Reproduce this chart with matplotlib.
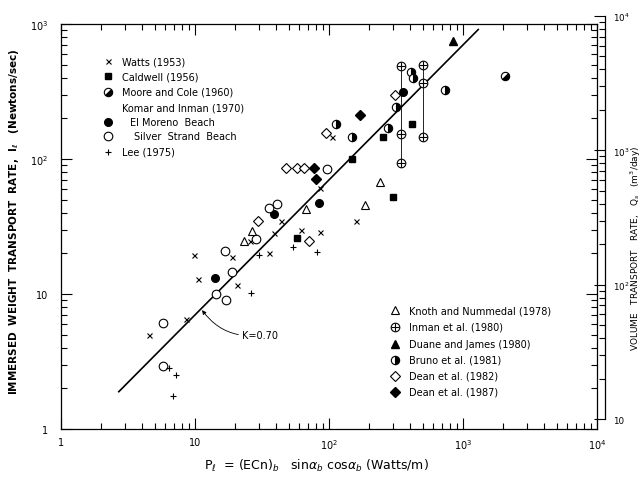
import numpy as np
import matplotlib
matplotlib.use('Agg')
import matplotlib.pyplot as plt
from matplotlib.markers import MarkerStyle
from matplotlib.transforms import Affine2D
from matplotlib.ticker import LogLocator, NullFormatter, FuncFormatter

# ---------------- data (P_l in W/m, I_l in N/s) ----------------
watts_P = [9.87, 10.6, 4.5, 8.6, 18.9, 20.6, 25.9, 38.7, 35.5, 44.2, 61.9, 86.4, 86.4, 105.6, 158]
watts_I = [19.4, 12.9, 5.0, 6.5, 18.7, 11.7, 24.8, 28.3, 20.0, 34.6, 29.9, 28.6, 61.5, 145, 34.7]

caldwell_P = [416, 254, 149, 302, 57.8]
caldwell_I = [181, 145, 100, 52, 26]

moore_P = [2052]
moore_I = [410]

elmoreno_P = [356, 84.9, 38.7, 14.2]
elmoreno_I = [312, 47.5, 39.1, 13.1]

silver_P = [95.8, 41.0, 35.5, 5.82, 5.76, 16.8, 18.9, 14.3, 17.1, 28.7]
silver_I = [83.9, 46.2, 43.3, 6.10, 2.91, 20.9, 14.6, 10.05, 9.03, 25.5]

lee_P = [7.24, 6.91, 6.35, 26.2, 29.9, 53.6, 80.7]
lee_I = [2.53, 1.75, 2.81, 10.2, 19.4, 22.2, 20.4]

knoth_P = [241, 187, 67.1, 26.7, 23.1]
knoth_I = [67.9, 45.9, 42.6, 29.4, 24.8]

inman_P = [342.5, 342.5, 342.5, 503, 503, 503]
inman_I = [486, 153, 93.4, 494, 367, 145]

duane_P = [848]
duane_I = [745]

bruno_P = [407, 426, 734, 314, 277, 147.5, 113]
bruno_I = [439, 396, 324, 244, 170, 145, 181]

dean82_P = [310, 94.2, 48.1, 57.9, 64.8, 29.4, 71.5]
dean82_I = [296, 155, 86.2, 86.2, 86.2, 34.6, 24.8]

dean87_P = [170, 76.9, 80.2]
dean87_I = [212, 86.2, 70.8]

K = 0.70
line_P = [2.7, 1300]

W, H = 644, 485
fig = plt.figure(figsize=(W / 100, H / 100), dpi=100)
ax = fig.add_axes([61 / W, 1 - 430 / H, 536 / W, 405 / H])
ax.set_xscale('log')
ax.set_yscale('log')
ax.set_xlim(1, 1e4)
ax.set_ylim(1, 1e3)


def fmt(v, pos):
    e = int(round(np.log10(v)))
    if e == 0:
        return '1'
    if e == 1:
        return '10'
    return r'$10^{%d}$' % e


for axis in (ax.xaxis, ax.yaxis):
    axis.set_major_locator(LogLocator(base=10, numticks=10))
    axis.set_minor_locator(LogLocator(base=10, subs=np.arange(2, 10), numticks=20))
    axis.set_major_formatter(FuncFormatter(fmt))
    axis.set_minor_formatter(NullFormatter())

ax.tick_params(which='both', direction='in', top=True, right=True, width=0.8, labelsize=7)
ax.tick_params(which='major', length=8)
ax.tick_params(which='minor', length=4.5)
ax.tick_params(axis='x', pad=6)
ax.tick_params(axis='y', pad=9)
for s in ax.spines.values():
    s.set_linewidth(0.9)

# ---------------- model line ----------------
lp = np.array(line_P)
ax.plot(lp, K * lp, color='black', lw=1.2)
ax.annotate('K=0.70', xy=(11.3, 7.6), xytext=(22.6, 4.97), fontsize=7,
            va='center', ha='left',
            arrowprops=dict(arrowstyle='-|>', color='black', lw=0.6,
                            mutation_scale=6, shrinkA=1, shrinkB=0,
                            connectionstyle='arc3,rad=-0.3'))

# ---------------- markers ----------------
moore_marker = MarkerStyle('o', fillstyle='right', transform=Affine2D().rotate_deg(-45))
bruno_marker = MarkerStyle('o', fillstyle='right')

styles = {
    'watts': dict(marker='x', ms=3.6, mew=0.8, color='black', ls='none'),
    'caldwell': dict(marker='s', ms=4.6, color='black', ls='none'),
    'moore': dict(marker=moore_marker, ms=6, mfc='black', mfcalt='white', mec='black', mew=0.8, ls='none'),
    'elmoreno': dict(marker='o', ms=5.5, color='black', ls='none'),
    'silver': dict(marker='o', ms=6.2, mfc='white', mec='black', mew=0.8, ls='none'),
    'lee': dict(marker='+', ms=4, mew=0.8, color='black', ls='none'),
    'knoth': dict(marker='^', ms=5.5, mfc='white', mec='black', mew=0.8, ls='none'),
    'inman': dict(marker='o', ms=6.2, mfc='white', mec='black', mew=0.8, ls='none'),
    'duane': dict(marker='^', ms=5.5, color='black', ls='none'),
    'bruno': dict(marker=bruno_marker, ms=6, mfc='black', mfcalt='white', mec='black', mew=0.8, ls='none'),
    'dean82': dict(marker='D', ms=4.8, mfc='white', mec='black', mew=0.8, ls='none'),
    'dean87': dict(marker='D', ms=4.8, color='black', ls='none'),
}

# Inman vertical ranges
ip = np.array(inman_P)
ii = np.array(inman_I)
for p in np.unique(ip):
    sel = ii[ip == p]
    ax.vlines(p, sel.min(), sel.max(), color='black', lw=0.6, zorder=2)

series = [
    ('watts', watts_P, watts_I), ('caldwell', caldwell_P, caldwell_I),
    ('moore', moore_P, moore_I), ('elmoreno', elmoreno_P, elmoreno_I),
    ('silver', silver_P, silver_I), ('lee', lee_P, lee_I),
    ('knoth', knoth_P, knoth_I), ('inman', inman_P, inman_I),
    ('duane', duane_P, duane_I), ('bruno', bruno_P, bruno_I),
    ('dean82', dean82_P, dean82_I), ('dean87', dean87_P, dean87_I),
]
for key, xs, ys in series:
    ax.plot(xs, ys, zorder=3, **styles[key])
    if key == 'inman':
        ax.plot(xs, ys, marker='+', ms=6.2, mew=0.8, color='black', ls='none', zorder=4)

# ---------------- legends (manual) ----------------
def legend_row(xm, xt, y, key, label, plus=False):
    if key is not None:
        ax.plot([xm], [y], transform=ax.transAxes, clip_on=False, **styles[key])
        if plus:
            ax.plot([xm], [y], transform=ax.transAxes, marker='+', ms=6.2, mew=0.8,
                    color='black', ls='none')
    ax.text(xt, y, label, transform=ax.transAxes, fontsize=7, va='center', ha='left')

lx_m, lx_t = 0.0877, 0.1138
legend_row(lx_m, lx_t, 0.9086, 'watts', 'Watts (1953)')
legend_row(lx_m, lx_t, 0.8716, 'caldwell', 'Caldwell (1956)')
legend_row(lx_m, lx_t, 0.8321, 'moore', 'Moore and Cole (1960)')
legend_row(lx_m, lx_t, 0.7926, None, 'Komar and Inman (1970)')
legend_row(lx_m, 0.1287, 0.7580, 'elmoreno', 'El Moreno  Beach')
legend_row(lx_m, 0.1360, 0.7235, 'silver', 'Silver  Strand  Beach')
legend_row(lx_m, lx_t, 0.6840, 'lee', 'Lee (1975)')

rx_m, rx_t = 0.623, 0.649
legend_row(rx_m, rx_t, 0.2938, 'knoth', 'Knoth and Nummedal (1978)')
legend_row(rx_m, rx_t, 0.2519, 'inman', 'Inman et al. (1980)', plus=True)
legend_row(rx_m, rx_t, 0.2099, 'duane', 'Duane and James (1980)')
legend_row(rx_m, rx_t, 0.1704, 'bruno', 'Bruno et al. (1981)')
legend_row(rx_m, rx_t, 0.1309, 'dean82', 'Dean et al. (1982)')
legend_row(rx_m, rx_t, 0.0914, 'dean87', 'Dean et al. (1987)')

# ---------------- right volume axis ----------------
ax2 = fig.add_axes([605 / W, 1 - 420 / H, 0.0005, 403 / H])
ax2.set_yscale('log')
ax2.set_ylim(10, 1e4)
ax2.set_xticks([])
for name in ('top', 'bottom', 'right'):
    ax2.spines[name].set_visible(False)
ax2.spines['left'].set_linewidth(0.9)
ax2.yaxis.set_major_locator(LogLocator(base=10, numticks=10))
ax2.yaxis.set_minor_locator(LogLocator(base=10, subs=np.arange(2, 10), numticks=20))
ax2.yaxis.set_major_formatter(FuncFormatter(fmt))
ax2.yaxis.set_minor_formatter(NullFormatter())
ax2.tick_params(axis='y', which='both', left=True, right=False, labelleft=False,
                labelright=True, direction='out', width=0.8, labelsize=6.3, pad=-2.5)
ax2.tick_params(axis='y', which='major', length=8)
ax2.tick_params(axis='y', which='minor', length=4.5)

# ---------------- axis titles ----------------
fig.text(14 / W, 1 - 222 / H,
         r'IMMERSED  WEIGHT  TRANSPORT  RATE,  $\mathbf{I_\ell}$   (Newtons/sec)',
         rotation=90, fontsize=7.5, fontweight='bold', ha='center', va='center')
fig.text(636 / W, 1 - 248 / H,
         r'VOLUME   TRANSPORT   RATE,   Q$_s$   (m$^3$/day)',
         rotation=90, fontsize=6.5, ha='center', va='center')
fig.text(316 / W, 1 - 466 / H,
         r'P$_\ell$  = (ECn)$_b$   sin$\alpha_b$ cos$\alpha_b$ (Watts/m)',
         fontsize=9, ha='center', va='center')

fig.savefig('out.png', dpi=100)
